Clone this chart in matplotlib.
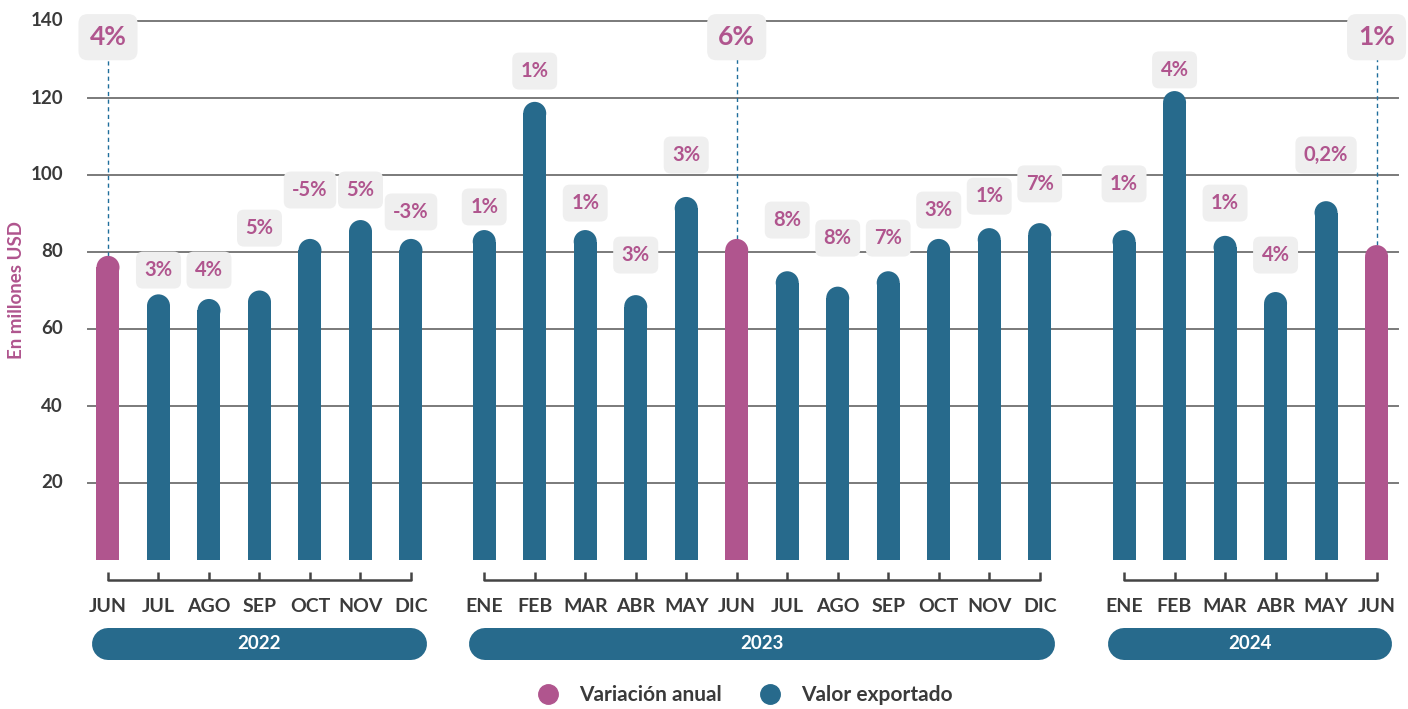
import matplotlib
matplotlib.use("Agg")
import matplotlib.pyplot as plt
from matplotlib.patches import Rectangle, Ellipse
from matplotlib.lines import Line2D

# ---- data ----
years = ['2022', '2023', '2024']
months = [
    ['JUN', 'JUL', 'AGO', 'SEP', 'OCT', 'NOV', 'DIC'],
    ['ENE', 'FEB', 'MAR', 'ABR', 'MAY', 'JUN', 'JUL', 'AGO', 'SEP', 'OCT', 'NOV', 'DIC'],
    ['ENE', 'FEB', 'MAR', 'ABR', 'MAY', 'JUN'],
]
values = [
    [79, 69, 67.8, 70, 83.4, 88.3, 83.4],
    [85.7, 119, 85.7, 68.8, 94.3, 83.4, 75, 71, 75, 83.4, 86.2, 87.5],
    [85.7, 121.8, 84.2, 69.6, 93.2, 81.8],
]
variation = [
    ['4%', '3%', '4%', '5%', '-5%', '5%', '-3%'],
    ['1%', '1%', '1%', '3%', '3%', '6%', '8%', '8%', '7%', '3%', '1%', '7%'],
    ['1%', '4%', '1%', '4%', '0,2%', '1%'],
]
label_y = [
    [135.8, 75.3, 75.3, 86.2, 96.1, 96.1, 90.4],
    [91.7, 127, 92.7, 79.2, 105.2, 135.8, 88.3, 83.6, 83.6, 90.9, 94.5, 97.7],
    [97.7, 127.3, 92.7, 79.2, 105.2, 135.8],
]
yticks = [20, 40, 60, 80, 100, 120, 140]

# ---- style ----
BLUE = '#276a8c'
PINK = '#b0558e'
DARK = '#3a3a3a'
BOXBG = '#efefef'
FONT = 'Lato'
plt.rcParams['font.family'] = [FONT, 'DejaVu Sans']

W, H = 1408, 709
fig = plt.figure(figsize=(W / 100, H / 100), dpi=100)
ax = fig.add_axes([0, 0, 1, 1])
ax.set_axis_off()

# pixel mapping: slot s -> x px = 108 + 50.5*s ; value v -> y px = 560 - 3.85*v
PX_X, PX_Y = 50.5, 3.85
ax.set_xlim(-108 / PX_X, (W - 108) / PX_X)
ax.set_ylim(-(H - 560) / PX_Y, 560 / PX_Y)

group_start = [0, 7.45, 20.12]
bar_w = 23 / PX_X
r_y = 11.5 / PX_Y

# gridlines and y ticks
for t in yticks:
    ax.plot([-20 / PX_X, 1290 / PX_X], [t, t], color='#7a7a7a', lw=1.4, zorder=1)
    ax.text(-45 / PX_X, t, str(t), ha='right', va='center', fontsize=13.5,
            fontweight='bold', color=DARK)
ax.text(-92 / PX_X, 70, 'En millones USD', rotation=90, ha='center', va='center',
        fontsize=13.5, fontweight='bold', color=PINK)

for g, year in enumerate(years):
    xs = [group_start[g] + i for i in range(len(months[g]))]
    for x, m, v, lab, ly in zip(xs, months[g], values[g], variation[g], label_y[g]):
        col = PINK if m == 'JUN' else BLUE
        ax.add_patch(Rectangle((x - bar_w / 2, 0), bar_w, v - r_y, color=col, lw=0, zorder=3))
        ax.add_patch(Ellipse((x, v - r_y), bar_w, 2 * r_y, color=col, lw=0, zorder=3))
        big = m == 'JUN'
        ax.text(x, ly, lab, ha='center', va='center',
                fontsize=19 if big else 14.5, fontweight='bold', color=PINK, zorder=5,
                bbox=dict(boxstyle='round,pad=0.42,rounding_size=0.35',
                          fc=BOXBG, ec='none'))
        if big:
            ax.plot([x, x], [v, 130], color='#1f6e9c', lw=1, ls=(0, (3, 2.5)), zorder=2)
        # month label
        ax.text(x, -11.95, m, ha='center', va='center', fontsize=14,
                fontweight='bold', color=DARK)
        # bracket tick
        ax.plot([x, x], [-3.1, -5.2], color='#444444', lw=1.8, zorder=2,
                solid_capstyle='butt')
    ax.plot([xs[0], xs[-1]], [-5.2, -5.2], color='#444444', lw=1.8, zorder=2,
            solid_capstyle='round')
    # year pill
    pad = 0.31
    rx = 16 / PX_X
    ax.plot([xs[0] - pad + rx, xs[-1] + pad - rx], [-21.8, -21.8], color=BLUE,
            lw=32 * 0.72, solid_capstyle='round', zorder=2)
    ax.text((xs[0] + xs[-1]) / 2, -21.8, year, ha='center', va='center',
            fontsize=13.5, fontweight='bold', color='white', zorder=3)

handles = [
    Line2D([], [], ls='none', marker='o', markersize=14, color=PINK, label='Variación anual'),
    Line2D([], [], ls='none', marker='o', markersize=14, color=BLUE, label='Valor exportado'),
]
fig.legend(handles=handles, loc='center', bbox_to_anchor=(740 / W, 1 - 695 / H),
           ncol=2, frameon=False, handletextpad=0.5, columnspacing=1.3,
           prop={'family': FONT, 'weight': 'bold', 'size': 15},
           labelcolor=DARK)

fig.savefig('out.png', dpi=100)
